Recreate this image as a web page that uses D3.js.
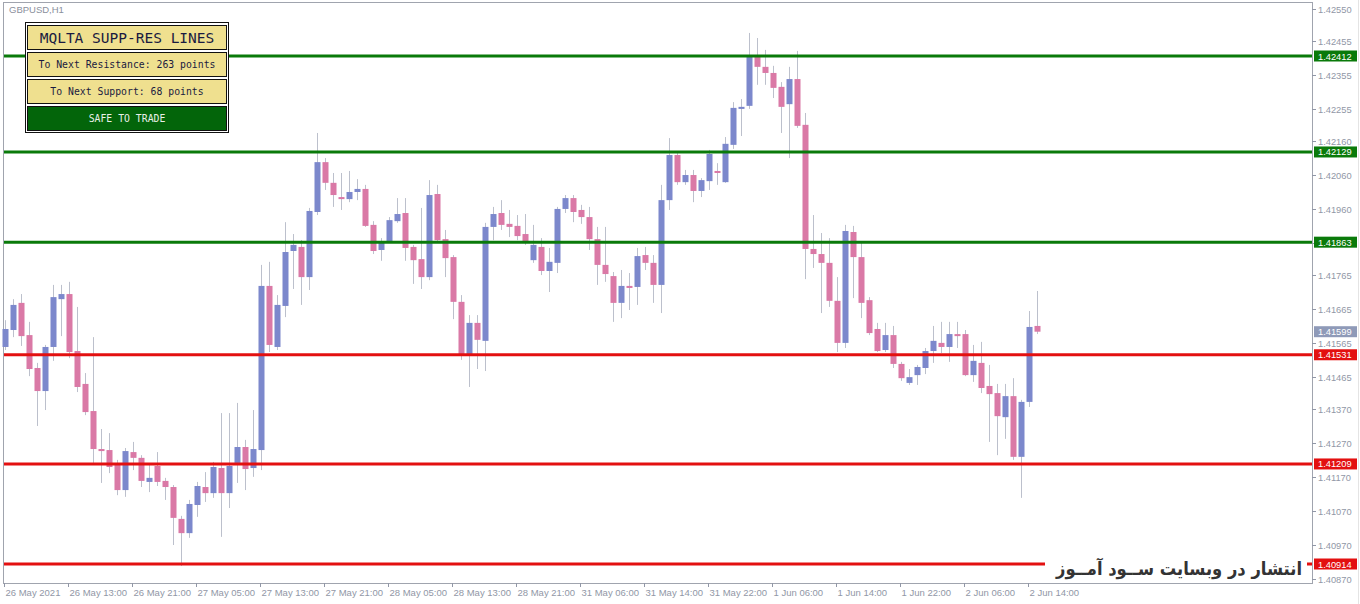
<!DOCTYPE html>
<html>
<head>
<meta charset="utf-8">
<script src="https://cdn.jsdelivr.net/npm/d3@7"></script>
<style>
  body { margin: 0; background: #fff; }
  svg { display: block; }
</style>
</head>
<body>
<div id="chart"></div>
<script>
// ---------------------------- DATA ----------------------------
const symbol = "GBPUSD,H1";

const opens = [1.41554,1.41604,1.41684,1.41589,1.41492,1.41424,1.41554,1.41695,1.41710,1.41542,
  1.41445,1.41365,1.41253,1.41250,1.41206,1.41132,1.41244,1.41227,1.41156,1.41203,
  1.41159,1.41141,1.41047,1.41005,1.41088,1.41141,1.41123,1.41197,1.41123,1.41212,
  1.41259,1.41197,1.41250,1.41734,1.41554,1.41675,1.41837,1.41849,1.41760,1.41952,
  1.42099,1.42038,1.41996,1.41990,1.42011,1.42020,1.41914,1.41840,1.41863,1.41925,
  1.41949,1.41849,1.41813,1.41760,1.42005,1.41872,1.41819,1.41687,1.41533,1.41625,
  1.41572,1.41908,1.41949,1.41917,1.41911,1.41887,1.41810,1.41849,1.41778,1.41802,
  1.41961,1.41993,1.41958,1.41937,1.41872,1.41796,1.41763,1.41684,1.41734,1.41731,
  1.41825,1.41802,1.41737,1.41987,1.42120,1.42040,1.42061,1.42014,1.42043,1.42073,
  1.42040,1.42150,1.42256,1.42265,1.42409,1.42380,1.42362,1.42321,1.42270,1.42344,
  1.42209,1.41843,1.41828,1.41802,1.41690,1.41566,1.41893,1.41819,1.41692,1.41607,
  1.41545,1.41589,1.41504,1.41448,1.41471,1.41492,1.41542,1.41566,1.41554,1.41592,
  1.41592,1.41471,1.41507,1.41439,1.41418,1.41347,1.41409,1.41230,1.41392,1.41616];

const highs = [1.41633,1.41695,1.41710,1.41628,1.41507,1.41560,1.41737,1.41737,1.41746,1.41672,
  1.41477,1.41583,1.41312,1.41300,1.41221,1.41256,1.41274,1.41235,1.41209,1.41244,
  1.41168,1.41147,1.41056,1.41103,1.41156,1.41185,1.41215,1.41359,1.41359,1.41389,
  1.41280,1.41368,1.41796,1.41805,1.41707,1.41922,1.41887,1.41869,1.41964,1.42185,
  1.42111,1.42067,1.42067,1.42073,1.42049,1.42032,1.41925,1.41875,1.41937,1.41993,
  1.41993,1.41855,1.41964,1.42046,1.42032,1.41899,1.41825,1.41707,1.41648,1.41648,
  1.41920,1.41967,1.41987,1.41958,1.41943,1.41946,1.41914,1.41875,1.41846,1.41967,
  1.42002,1.42002,1.41973,1.41967,1.41908,1.41908,1.41775,1.41781,1.41772,1.41846,
  1.41849,1.41825,1.42032,1.42170,1.42129,1.42076,1.42076,1.42052,1.42135,1.42096,
  1.42173,1.42276,1.42285,1.42480,1.42465,1.42430,1.42383,1.42335,1.42380,1.42427,
  1.42244,1.41943,1.41890,1.41875,1.41760,1.41914,1.41911,1.41861,1.41701,1.41625,
  1.41625,1.41616,1.41510,1.41489,1.41501,1.41551,1.41616,1.41628,1.41628,1.41628,
  1.41604,1.41560,1.41569,1.41501,1.41445,1.41445,1.41462,1.41398,1.41660,1.41719];

const lows = [1.41545,1.41583,1.41557,1.41468,1.41321,1.41368,1.41513,1.41586,1.41521,1.41421,
  1.41353,1.41212,1.41153,1.41182,1.41117,1.41112,1.41191,1.41141,1.41126,1.41144,
  1.41103,1.40970,1.40908,1.40991,1.41053,1.41097,1.41109,1.40994,1.41079,1.41153,
  1.41132,1.41171,1.41191,1.41539,1.41545,1.41642,1.41725,1.41678,1.41722,1.41943,
  1.42017,1.41967,1.41958,1.41981,1.41987,1.41908,1.41828,1.41808,1.41861,1.41920,
  1.41808,1.41740,1.41725,1.41751,1.41863,1.41760,1.41636,1.41516,1.41436,1.41489,
  1.41483,1.41869,1.41899,1.41878,1.41869,1.41855,1.41802,1.41766,1.41716,1.41772,
  1.41949,1.41922,1.41917,1.41840,1.41737,1.41746,1.41628,1.41639,1.41663,1.41678,
  1.41781,1.41684,1.41654,1.41958,1.42032,1.42032,1.41981,1.41996,1.42017,1.42032,
  1.42038,1.42138,1.42176,1.42256,1.42327,1.42327,1.42288,1.42185,1.42111,1.42200,
  1.41754,1.41787,1.41654,1.41672,1.41539,1.41551,1.41698,1.41639,1.41589,1.41539,
  1.41539,1.41492,1.41454,1.41442,1.41442,1.41474,1.41507,1.41536,1.41510,1.41551,
  1.41468,1.41451,1.41418,1.41274,1.41235,1.41283,1.41221,1.41109,1.41377,1.41592];

const closes = [1.41607,1.41678,1.41586,1.41489,1.41424,1.41554,1.41701,1.41710,1.41539,1.41436,
  1.41362,1.41253,1.41247,1.41200,1.41132,1.41247,1.41227,1.41159,1.41168,1.41156,
  1.41141,1.41050,1.41005,1.41091,1.41144,1.41123,1.41200,1.41123,1.41203,1.41259,
  1.41194,1.41253,1.41734,1.41560,1.41678,1.41834,1.41855,1.41760,1.41955,1.42099,
  1.42038,1.42002,1.41990,1.42011,1.42020,1.41911,1.41837,1.41861,1.41928,1.41946,
  1.41846,1.41810,1.41760,1.42002,1.41869,1.41816,1.41687,1.41533,1.41625,1.41575,
  1.41908,1.41946,1.41914,1.41908,1.41881,1.41866,1.41855,1.41778,1.41805,1.41961,
  1.41993,1.41952,1.41937,1.41872,1.41796,1.41769,1.41684,1.41734,1.41728,1.41822,
  1.41802,1.41737,1.41987,1.42120,1.42040,1.42061,1.42014,1.42046,1.42123,1.42067,
  1.42153,1.42259,1.42262,1.42409,1.42380,1.42362,1.42318,1.42262,1.42344,1.42206,
  1.41843,1.41828,1.41802,1.41690,1.41566,1.41896,1.41819,1.41684,1.41595,1.41542,
  1.41589,1.41504,1.41462,1.41465,1.41495,1.41542,1.41572,1.41554,1.41592,1.41586,
  1.41471,1.41513,1.41433,1.41415,1.41350,1.41409,1.41230,1.41392,1.41613,1.41599];

const resistances = [1.42412, 1.42129, 1.41863];
const supports = [1.41531, 1.41209, 1.40914];
const lastPrice = 1.41599;

const priceTicks = ["1.42550","1.42455","1.42355","1.42255","1.42160","1.42060","1.41960","1.41860",
  "1.41765","1.41665","1.41565","1.41465","1.41370","1.41270","1.41170","1.41070","1.40970","1.40870"];

const timeLabels = ["26 May 2021","26 May 13:00","26 May 21:00","27 May 05:00","27 May 13:00",
  "27 May 21:00","28 May 05:00","28 May 13:00","28 May 21:00","31 May 06:00","31 May 14:00",
  "31 May 22:00","1 Jun 06:00","1 Jun 14:00","1 Jun 22:00","2 Jun 06:00","2 Jun 14:00"];
const timeLabelBars = [0,8,16,24,32,40,48,56,64,72,80,88,96,104,112,120,128];

const panelRows = ["MQLTA SUPP-RES LINES","To Next Resistance: 263 points","To Next Support: 68 points","SAFE TO TRADE"];
const watermark = "انتشار در وبسایت ســود آمــوز";

// ---------------------------- SVG -----------------------------
const W = 1360, H = 604;
const plotL = 3, plotR = 1312, plotT = 2, plotB = 583;
const upCol = "#7c88cc", downCol = "#da79a6", wickCol = "#bcc0cc";
const axisCol = "#9197a6";

const svg = d3.select("#chart").append("svg")
    .attr("width", W).attr("height", H);

svg.append("rect").attr("width", W).attr("height", H).attr("fill", "#fff");

// scales
const xScale = d3.scaleLinear().domain([0, 129]).range([5, 1037]);
const yScale = d3.scaleLinear().domain([1.40914, 1.42412]).range([564, 56]);

// frame
svg.append("rect")
    .attr("x", plotL + 0.5).attr("y", plotT + 0.5)
    .attr("width", plotR - plotL).attr("height", plotB - plotT)
    .attr("fill", "none").attr("stroke", "#a0a4ae");
svg.append("line").attr("x1", W - 1.5).attr("x2", W - 1.5).attr("y1", 0).attr("y2", H)
    .attr("stroke", "#e4e4e4");

svg.append("text").attr("x", 9).attr("y", 13)
    .attr("font-family", "Liberation Sans, Arial").attr("font-size", 9.5)
    .attr("fill", "#8a8f9c").text(symbol);

// ----------------------------- AXES ---------------------------
const yG = svg.append("g");
priceTicks.forEach(function(t) {
    const y = Math.round(yScale(+t)) + 0.5;
    yG.append("line").attr("x1", plotR).attr("x2", plotR + 4).attr("y1", y).attr("y2", y)
        .attr("stroke", axisCol);
    yG.append("text").attr("x", plotR + 6).attr("y", y + 3.5)
        .attr("font-family", "Liberation Sans, Arial").attr("font-size", 9.3)
        .attr("fill", axisCol).text(t);
});

const xG = svg.append("g");
timeLabels.forEach(function(t, i) {
    const x = Math.round(xScale(timeLabelBars[i])) - 0.5;
    xG.append("line").attr("x1", x).attr("x2", x).attr("y1", plotB).attr("y2", plotB + 4)
        .attr("stroke", axisCol);
    xG.append("text").attr("x", x + 1).attr("y", 596)
        .attr("font-family", "Liberation Sans, Arial").attr("font-size", 9.5)
        .attr("fill", axisCol).text(t);
});

// ---------------------------- CANDLES -------------------------
const bars = svg.append("g").selectAll("g")
    .data(opens.map(function(o, i) {
        return {i: i, o: o, h: highs[i], l: lows[i], c: closes[i]};
    }))
    .enter().append("g");

bars.append("line")
    .attr("x1", d => Math.round(xScale(d.i)) + 0.5)
    .attr("x2", d => Math.round(xScale(d.i)) + 0.5)
    .attr("y1", d => yScale(d.h))
    .attr("y2", d => yScale(d.l))
    .attr("stroke", wickCol);

bars.append("rect")
    .attr("x", d => Math.round(xScale(d.i)) - 2.5)
    .attr("width", 6)
    .attr("y", d => yScale(Math.max(d.o, d.c)))
    .attr("height", d => Math.max(2, yScale(Math.min(d.o, d.c)) - yScale(Math.max(d.o, d.c))))
    .attr("fill", d => d.c >= d.o ? upCol : downCol);

// ---------------------------- LEVELS --------------------------
function level(p, col) {
    const y = yScale(p);
    svg.append("line").attr("x1", plotL + 1).attr("x2", plotR).attr("y1", y).attr("y2", y)
        .attr("stroke", col).attr("stroke-width", 3);
    svg.append("rect").attr("x", plotR + 2).attr("y", y - 5.5).attr("width", 43).attr("height", 11)
        .attr("fill", col);
    svg.append("text").attr("x", plotR + 6).attr("y", y + 3.5)
        .attr("font-family", "Liberation Sans, Arial").attr("font-size", 9.3)
        .attr("fill", "#fff").text(p.toFixed(5));
}
resistances.forEach(p => level(p, "#0a7a0a"));
supports.forEach(p => level(p, "#e31010"));

// last price tag
svg.append("rect").attr("x", plotR + 2).attr("y", yScale(lastPrice) - 5.5).attr("width", 43).attr("height", 11)
    .attr("fill", "#8f9ab8");
svg.append("text").attr("x", plotR + 6).attr("y", yScale(lastPrice) + 3.5)
    .attr("font-family", "Liberation Sans, Arial").attr("font-size", 9.3)
    .attr("fill", "#fff").text(lastPrice.toFixed(5));

// ---------------------------- PANEL ---------------------------
svg.append("rect").attr("x", 25.5).attr("y", 22.5).attr("width", 203).attr("height", 110)
    .attr("fill", "#fff").attr("stroke", "#111");
panelRows.forEach(function(t, i) {
    const y = 25 + i * 27;
    svg.append("rect").attr("x", 27.5).attr("y", y + 0.5).attr("width", 199).attr("height", 24)
        .attr("fill", i == 3 ? "#03650a" : "#efe08f").attr("stroke", "#111");
    svg.append("text").attr("x", 127).attr("y", y + (i == 0 ? 18 : 16))
        .attr("text-anchor", "middle")
        .attr("font-family", "DejaVu Sans Mono, monospace")
        .attr("font-size", i == 0 ? 14.5 : 9.8)
        .attr("fill", i == 3 ? "#e8f0e8" : "#1a1a40").text(t);
});

// ---------------------------- WATERMARK -----------------------
svg.append("rect").attr("x", 1045).attr("y", 553).attr("width", 262).attr("height", 26).attr("fill", "#fff");
svg.append("text").attr("x", 1302).attr("y", 575)
    .attr("text-anchor", "end")
    .attr("textLength", 246).attr("lengthAdjust", "spacingAndGlyphs")
    .attr("font-family", "DejaVu Sans, sans-serif").attr("font-weight", "bold")
    .attr("font-size", 18).attr("fill", "#333")
    .text(watermark);
</script>
</body>
</html>
